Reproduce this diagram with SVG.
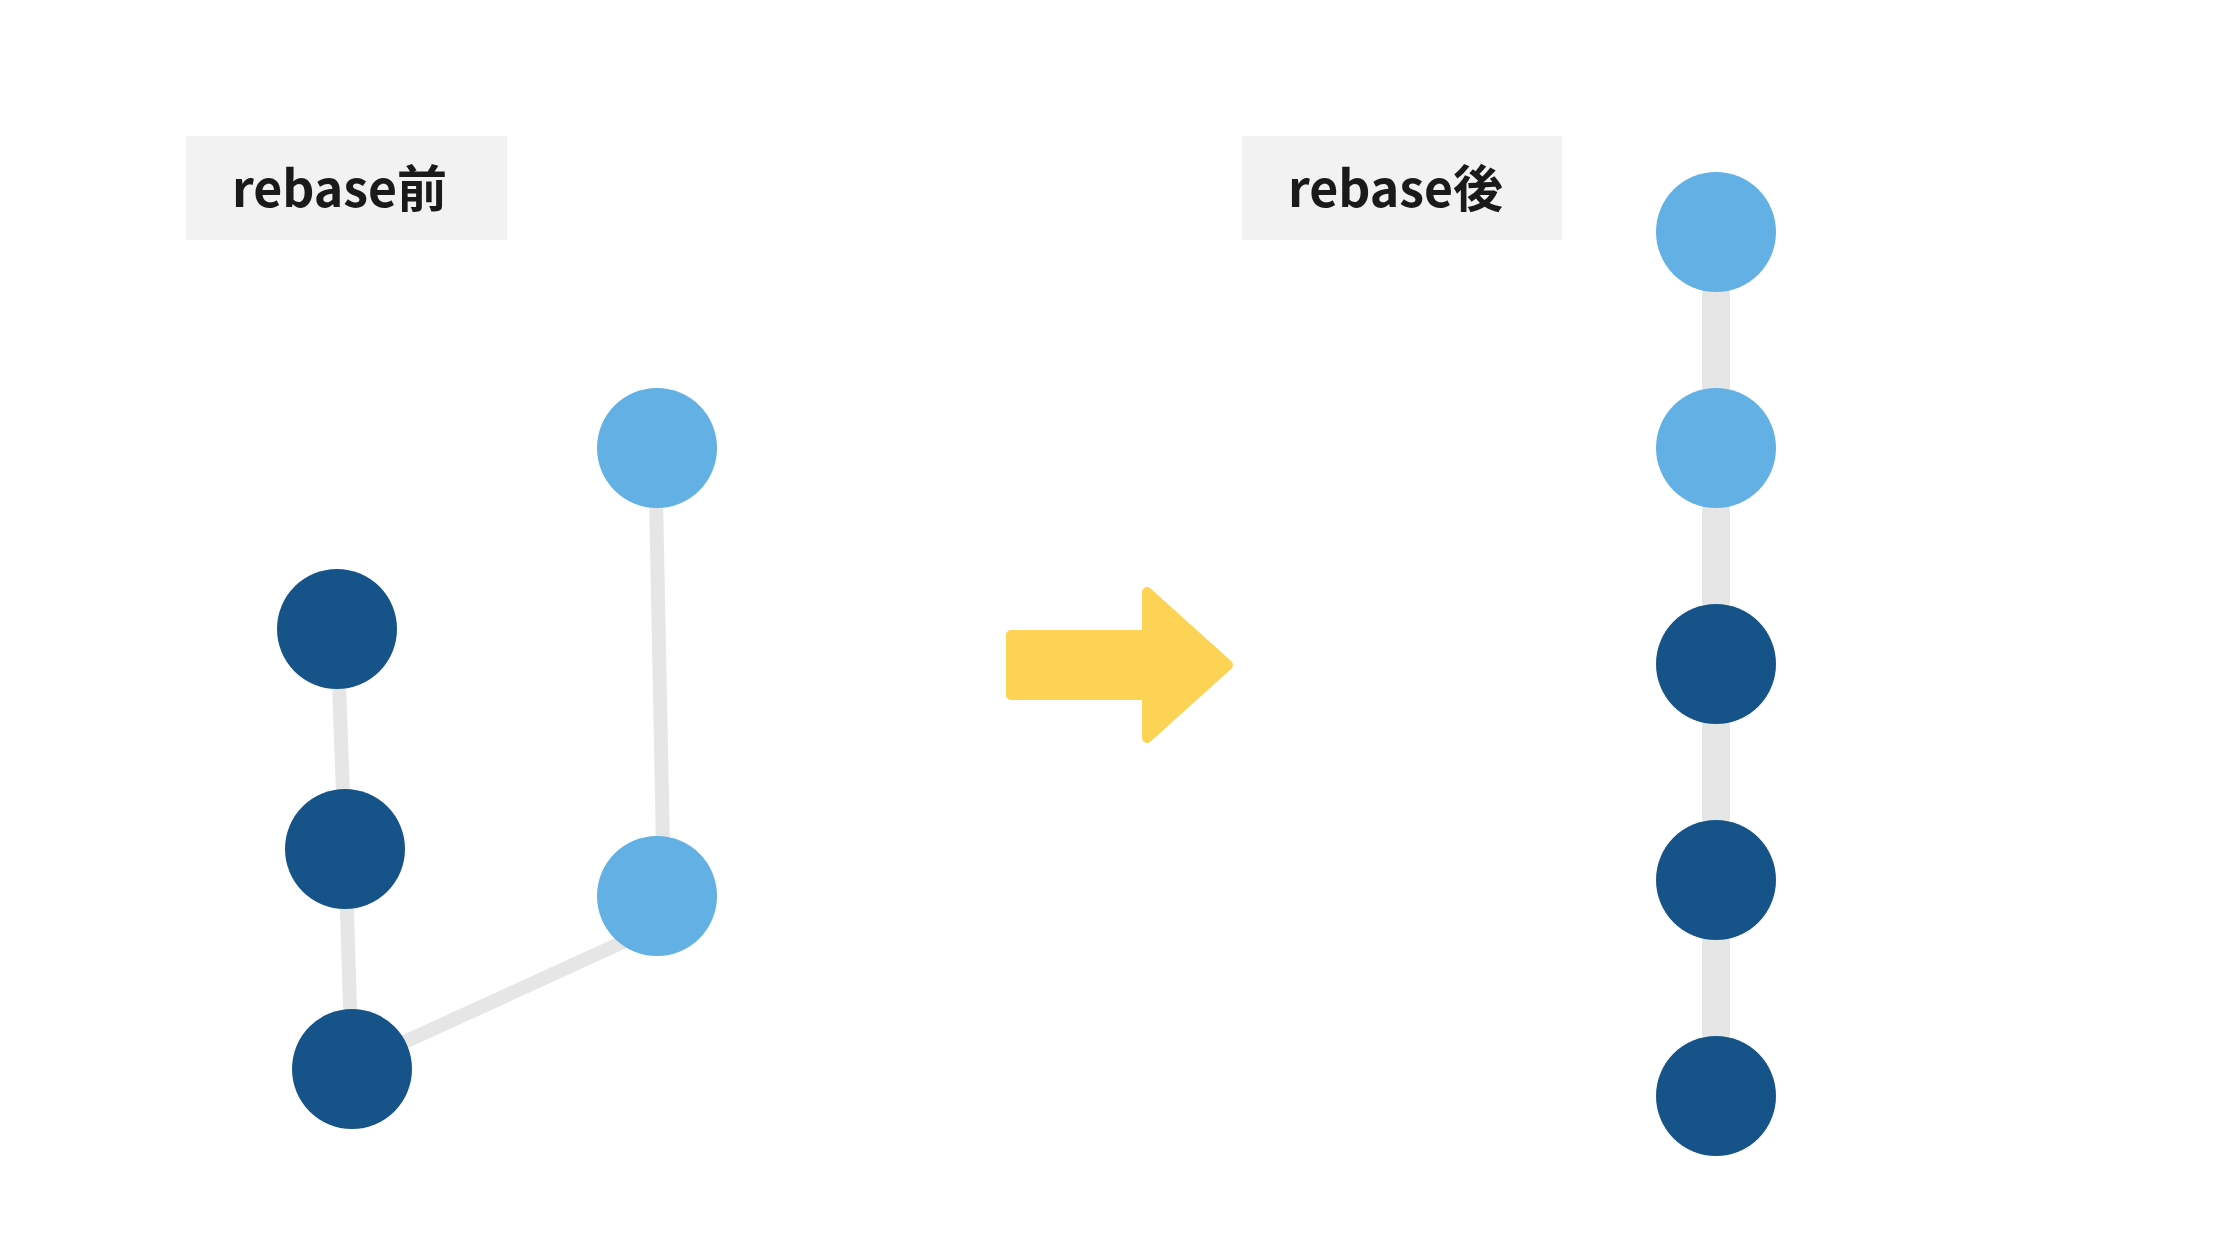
<svg xmlns="http://www.w3.org/2000/svg" width="2240" height="1260" viewBox="0 0 2240 1260">
<style>
.box{fill:#f2f2f2}
.lbl{font-family:"Noto Sans CJK JP","Noto Sans",sans-serif;font-weight:bold;font-size:50px;fill:#1a1a1a}
.dark{fill:#165388}
.light{fill:#62b0e4}
.thin{stroke:#e6e6e6;stroke-width:14;fill:none}
.thick{stroke:#e6e6e6;stroke-width:28;fill:none}
.arrow{fill:#fcd354;stroke:#fcd354;stroke-width:10;stroke-linejoin:round}
</style>
<rect width="2240" height="1260" fill="#ffffff"/>
<g id="connectors">
<line class="thin" x1="337" y1="629" x2="345" y2="849"/>
<line class="thin" x1="345" y1="849" x2="352" y2="1069"/>
<line class="thin" x1="655" y1="448" x2="664" y2="896"/>
<line class="thin" x1="352" y1="1066" x2="645" y2="932"/>
<line class="thick" x1="1716" y1="232" x2="1716" y2="1096"/>
</g>
<g id="label-before">
<rect class="box" x="186" y="136" width="321" height="104"/>
<text class="lbl" x="232" y="207">rebase前</text>
</g>
<g id="label-after">
<rect class="box" x="1242" y="136" width="320" height="104"/>
<text class="lbl" x="1288" y="207">rebase後</text>
</g>
<g id="b1"><circle class="dark" cx="337" cy="629" r="60"/></g>
<g id="b2"><circle class="dark" cx="345" cy="849" r="60"/></g>
<g id="b3"><circle class="dark" cx="352" cy="1069" r="60"/></g>
<g id="b4"><circle class="light" cx="657" cy="896" r="60"/></g>
<g id="b5"><circle class="light" cx="657" cy="448" r="60"/></g>
<g id="arrow">
<polygon class="arrow" points="1011,635 1147,635 1147,592 1228,665 1147,738 1147,695 1011,695"/>
</g>
<g id="a1"><circle class="light" cx="1716" cy="232" r="60"/></g>
<g id="a2"><circle class="light" cx="1716" cy="448" r="60"/></g>
<g id="a3"><circle class="dark" cx="1716" cy="664" r="60"/></g>
<g id="a4"><circle class="dark" cx="1716" cy="880" r="60"/></g>
<g id="a5"><circle class="dark" cx="1716" cy="1096" r="60"/></g>
</svg>
